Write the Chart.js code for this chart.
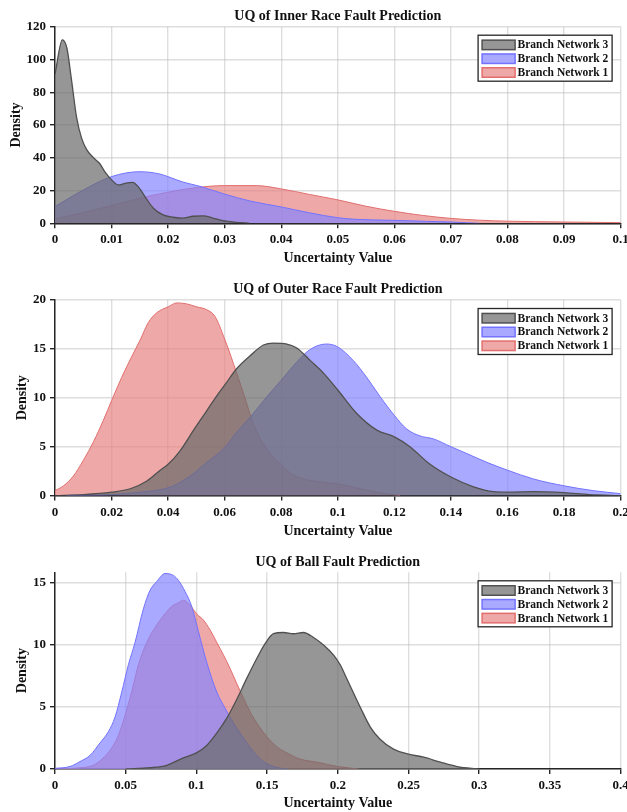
<!DOCTYPE html>
<html>
<head>
<meta charset="utf-8">
<script src="https://cdn.jsdelivr.net/npm/chart.js@4/dist/chart.umd.min.js"></script>
<style>
  html, body { margin: 0; padding: 0; background: #fff; width: 627px; height: 812px; overflow: hidden; }
  canvas { position: absolute; left: 0; display: block; }
</style>
</head>
<body>
<canvas id="inner" width="627" height="270" style="top:0px"></canvas>
<canvas id="outer" width="627" height="270" style="top:270px"></canvas>
<canvas id="ball" width="627" height="272" style="top:540px"></canvas>
<script>
// ---- Series labels ----
const seriesLabels = ['Branch Network 3', 'Branch Network 2', 'Branch Network 1'];

// ---- Inner race fault: kernel density of uncertainty ----
const innerX3 = [0, 0.0013, 0.0021, 0.0029, 0.0038, 0.0047, 0.0056, 0.0068, 0.0079, 0.0088, 0.010, 0.0112, 0.0124, 0.0137, 0.0147, 0.0159, 0.0174, 0.0191, 0.0209, 0.0226, 0.0244, 0.0262, 0.0279, 0.0297, 0.032, 0.0344];
const innerY3 = [91, 112, 107, 88, 65, 52, 45, 40, 36.5, 31.5, 26.5, 23.4, 24.4, 25, 22.4, 16.3, 9.2, 5.1, 3.7, 3.1, 4.3, 4.5, 3.2, 1.6, 0.6, 0];
const innerX2 = [0, 0.005, 0.010, 0.015, 0.0185, 0.0226, 0.0256, 0.030, 0.0345, 0.040, 0.045, 0.050, 0.0534, 0.060, 0.0657, 0.070, 0.0728, 0.075];
const innerY2 = [10.2, 20.3, 28.5, 31.5, 30.1, 25.2, 22.6, 17.8, 13.6, 10, 6.4, 3.4, 2.4, 1.8, 1.2, 0.8, 0.3, 0];
const innerX1 = [0, 0.005, 0.010, 0.015, 0.0197, 0.025, 0.030, 0.0356, 0.040, 0.045, 0.050, 0.055, 0.060, 0.065, 0.070, 0.075, 0.080, 0.090, 0.100];
const innerY1 = [2.7, 6.5, 10.8, 15.3, 18.8, 21.8, 23, 23, 21, 17.6, 14.3, 10.4, 7.3, 4.8, 3, 1.9, 1.3, 0.8, 0.4];

// ---- Outer race fault ----
const outerX3 = [0, 0.01, 0.02, 0.0266, 0.0325, 0.0372, 0.040, 0.0443, 0.049, 0.0537, 0.0572, 0.060, 0.0643, 0.069, 0.0737, 0.0773, 0.082, 0.0855, 0.0903, 0.095, 0.100, 0.1067, 0.1138, 0.120, 0.1255, 0.1326, 0.140, 0.148, 0.155, 0.160, 0.169, 0.180, 0.189, 0.200];
const outerY3 = [0, 0.1, 0.35, 0.7, 1.5, 2.6, 3.2, 4.6, 6.7, 8.7, 10.2, 11.3, 13.0, 14.3, 15.4, 15.6, 15.5, 15.1, 13.8, 12.5, 10.8, 8.4, 6.7, 6.0, 5.0, 3.2, 1.9, 0.9, 0.4, 0.35, 0.4, 0.3, 0.1, 0];
const outerX2 = [0.004, 0.02, 0.03, 0.0372, 0.0419, 0.0478, 0.0537, 0.060, 0.0643, 0.069, 0.0749, 0.080, 0.0844, 0.0891, 0.0926, 0.0961, 0.100, 0.1055, 0.1102, 0.115, 0.120, 0.1244, 0.1291, 0.1338, 0.140, 0.1456, 0.1527, 0.160, 0.1692, 0.180, 0.1905, 0.200];
const outerY2 = [0, 0.1, 0.35, 0.6, 1.0, 2.0, 3.4, 4.9, 6.5, 8.0, 10.1, 11.8, 13.3, 14.7, 15.3, 15.5, 15.2, 13.8, 12.1, 10.1, 8.2, 6.8, 6.1, 5.8, 5.0, 4.3, 3.4, 2.6, 1.7, 1.0, 0.5, 0.2];
const outerX1 = [0, 0.003, 0.0065, 0.010, 0.0136, 0.0171, 0.020, 0.0236, 0.0271, 0.0301, 0.033, 0.036, 0.040, 0.0431, 0.0466, 0.0501, 0.0537, 0.0566, 0.060, 0.0631, 0.0667, 0.0702, 0.0737, 0.0773, 0.080, 0.0832, 0.0879, 0.0937, 0.100, 0.108, 0.115, 0.122];
const outerY1 = [0.5, 1.0, 2.0, 3.6, 5.5, 7.7, 9.7, 12.1, 14.2, 15.9, 17.7, 18.7, 19.3, 19.7, 19.6, 19.3, 19.0, 18.3, 16.0, 13.5, 10.4, 7.3, 5.3, 3.9, 3.2, 2.3, 1.7, 1.4, 1.2, 0.7, 0.3, 0];

// ---- Ball fault ----
const ballX3 = [0.05, 0.0672, 0.079, 0.0908, 0.100, 0.1073, 0.1144, 0.1215, 0.1285, 0.1356, 0.1427, 0.1486, 0.1545, 0.1616, 0.1686, 0.1757, 0.1828, 0.1899, 0.1969, 0.2017, 0.2063, 0.2158, 0.2229, 0.2299, 0.2394, 0.250, 0.2608, 0.2726, 0.2844, 0.300];
const ballY3 = [0, 0.1, 0.3, 0.9, 1.3, 1.9, 2.9, 4.1, 5.6, 7.3, 8.9, 10.1, 10.9, 11.0, 10.9, 11.0, 10.6, 10.0, 9.2, 8.4, 7.3, 5.0, 3.4, 2.4, 1.6, 1.2, 0.95, 0.55, 0.2, 0];
const ballX2 = [0, 0.0106, 0.0177, 0.0248, 0.0318, 0.0377, 0.0425, 0.0472, 0.0519, 0.0566, 0.0625, 0.0672, 0.0719, 0.0778, 0.0837, 0.0873, 0.092, 0.0967, 0.1014, 0.1073, 0.1144, 0.1203, 0.1262, 0.1333, 0.1403, 0.1474, 0.1545, 0.1616, 0.165];
const ballY2 = [0.05, 0.2, 0.6, 1.1, 2.1, 3.0, 4.2, 6.2, 8.4, 10.2, 12.9, 14.4, 15.1, 15.75, 15.6, 15.2, 14.3, 13.1, 11.1, 8.6, 6.2, 4.9, 3.7, 2.5, 1.4, 0.6, 0.2, 0.03, 0];
const ballX1 = [0, 0.0177, 0.0271, 0.0342, 0.0401, 0.0448, 0.0495, 0.0542, 0.059, 0.0649, 0.0719, 0.0778, 0.0825, 0.0873, 0.0908, 0.0955, 0.1002, 0.105, 0.1097, 0.1144, 0.1191, 0.1238, 0.1285, 0.1333, 0.138, 0.1439, 0.1498, 0.1568, 0.1639, 0.1733, 0.1851, 0.200, 0.215];
const ballY1 = [0, 0.1, 0.3, 0.9, 1.7, 2.7, 4.3, 6.2, 8.4, 10.2, 11.6, 12.5, 13.1, 13.4, 13.6, 13.2, 12.5, 12.0, 11.2, 10.2, 9.2, 8.1, 6.9, 5.7, 4.6, 3.5, 2.6, 1.8, 1.3, 0.8, 0.55, 0.2, 0];

// ---- Styling ----
const FONT = '"Liberation Serif", "Times New Roman", serif';
const TEXT = '#111111';
const GRID = 'rgba(190,190,190,0.5)';
const AXIS = '#262626';
const fills = ['rgba(106,106,106,0.7)', 'rgba(133,133,255,0.7)', 'rgba(231,131,131,0.7)'];
const edges = ['#505050', '#7373ff', '#e26e6e'];
const edgeW = [1.3, 1, 1];

const fmt = v => String(+Number(v).toFixed(6));

// Boxed legend in the upper-right corner of the plot area
const legendBox = {
  id: 'legendBox',
  afterDraw(chart) {
    const { ctx, chartArea } = chart;
    const w = 134, h = 46;
    const left = chartArea.right - 8.5 - w;
    const top = chartArea.top + 8.5;
    ctx.save();
    ctx.fillStyle = '#ffffff';
    ctx.fillRect(left, top, w, h);
    ctx.strokeStyle = AXIS;
    ctx.lineWidth = 1.3;
    ctx.strokeRect(left, top, w, h);
    chart.data.datasets.forEach((ds, i) => {
      const cy = top + 9.7 + i * 13.8;
      ctx.fillStyle = ds.backgroundColor;
      ctx.fillRect(left + 4, cy - 4.75, 33, 9.5);
      ctx.strokeStyle = ds.borderColor;
      ctx.lineWidth = 1.5;
      ctx.strokeRect(left + 4, cy - 4.75, 33, 9.5);
      ctx.fillStyle = TEXT;
      ctx.font = 'bold 11.5px ' + FONT;
      ctx.textBaseline = 'middle';
      ctx.textAlign = 'left';
      ctx.fillText(ds.label, left + 39.5, cy + 0.5);
    });
    ctx.restore();
  }
};

function makeChart(id, c) {
  const xs = [c.x3, c.x2, c.x1], ys = [c.y3, c.y2, c.y1];
  const datasets = seriesLabels.map((label, i) => ({
    label,
    data: xs[i].map((x, k) => ({ x, y: ys[i][k] })),
    backgroundColor: fills[i],
    borderColor: edges[i],
    borderWidth: edgeW[i],
    fill: 'origin',
    pointRadius: 0,
    cubicInterpolationMode: 'monotone'
  }));
  return new Chart(document.getElementById(id), {
    type: 'line',
    data: { datasets },
    options: {
      responsive: false,
      animation: false,
      events: [],
      layout: { padding: { left: 0, right: 6.4, top: 0, bottom: c.padBottom } },
      plugins: {
        legend: { display: false },
        tooltip: { enabled: false },
        title: {
          display: true, text: c.title, color: TEXT, fullSize: false,
          font: { family: FONT, size: 14, weight: 'bold', lineHeight: 1.2 },
          padding: { top: c.titleTop, bottom: c.titleBottom }
        }
      },
      scales: {
        x: {
          type: 'linear', min: 0, max: c.xMax, z: 1,
          ticks: {
            stepSize: c.xStep, autoSkip: false, maxRotation: 0, padding: 4,
            color: TEXT, font: { family: FONT, size: 13, weight: 'bold' },
            callback: fmt
          },
          grid: { color: GRID, lineWidth: 1.4, tickColor: AXIS, tickLength: 5, drawTicks: true },
          border: { color: AXIS, width: 1.5 },
          title: {
            display: true, text: 'Uncertainty Value', color: TEXT,
            font: { family: FONT, size: 14, weight: 'bold', lineHeight: 1.2 },
            padding: { top: 0, bottom: 0 }
          },
          afterFit(s) { s.height = c.xAxisH; s.paddingLeft = 0; s.paddingRight = 0; }
        },
        y: {
          type: 'linear', min: 0, max: c.yMax, z: 1,
          ticks: {
            stepSize: c.yStep, includeBounds: false, padding: 4,
            color: TEXT, font: { family: FONT, size: 13, weight: 'bold' },
            callback: fmt
          },
          grid: { color: GRID, lineWidth: 1.4, tickColor: AXIS, tickLength: 5, drawTicks: true },
          border: { color: AXIS, width: 1.5 },
          title: {
            display: true, text: 'Density', color: TEXT,
            font: { family: FONT, size: 14, weight: 'bold', lineHeight: 1.2 },
            padding: { top: c.yTitlePad, bottom: 0 }
          },
          afterFit(s) { s.width = 55; s.paddingTop = 0; s.paddingBottom = 0; }
        }
      }
    },
    plugins: [legendBox]
  });
}

makeChart('inner', {
  title: 'UQ of Inner Race Fault Prediction',
  x3: innerX3, y3: innerY3, x2: innerX2, y2: innerY2, x1: innerX1, y1: innerY1,
  xMax: 0.1, xStep: 0.01, yMax: 120, yStep: 20,
  titleTop: 7.8, titleBottom: 2.1, xAxisH: 43.9, padBottom: 2.8, yTitlePad: 8.2
});
makeChart('outer', {
  title: 'UQ of Outer Race Fault Prediction',
  x3: outerX3, y3: outerY3, x2: outerX2, y2: outerY2, x1: outerX1, y1: outerY1,
  xMax: 0.2, xStep: 0.02, yMax: 20, yStep: 5,
  titleTop: 10.9, titleBottom: 2.3, xAxisH: 43.9, padBottom: 0.5, yTitlePad: 14
});
makeChart('ball', {
  title: 'UQ of Ball Fault Prediction',
  x3: ballX3, y3: ballY3, x2: ballX2, y2: ballY2, x1: ballX1, y1: ballY1,
  xMax: 0.4, xStep: 0.05, yMax: 15.85, yStep: 5,
  titleTop: 14.3, titleBottom: 1.2, xAxisH: 43, padBottom: 0, yTitlePad: 14
});
</script>
</body>
</html>
